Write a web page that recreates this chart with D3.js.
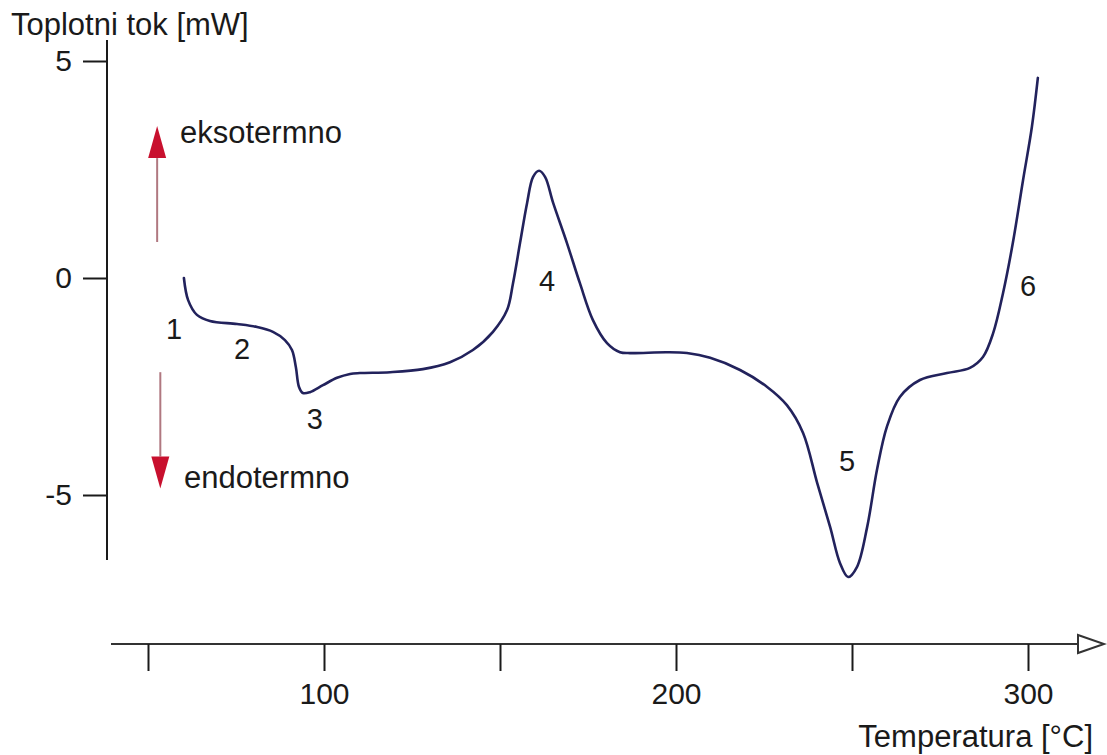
<!DOCTYPE html>
<html>
<head>
<meta charset="utf-8">
<script src="https://cdn.jsdelivr.net/npm/d3@7"></script>
<style>
  html, body { margin: 0; padding: 0; background: #fff; }
  svg { display: block; }
  text { font-family: "Liberation Sans", Arial, Helvetica, sans-serif; fill: #1a1a1a; }
</style>
</head>
<body>
<svg id="chart" width="1107" height="755"></svg>
<script>
// ---- data ----
const temperature = [60.2, 61.4, 63.9, 67.6, 75.3, 81.0, 85.5, 88.9, 90.9, 92.0, 92.9, 94.0, 96.0, 99.7, 103.7, 107.4, 110.2, 118.8, 128.1, 135.8, 142.3, 148.0, 152.0, 153.7, 155.7, 157.7, 159.4, 161.1, 162.8, 165.1, 169.0, 172.7, 176.4, 180.4, 184.1, 186.9, 197.4, 203.1, 209.7, 218.2, 225.9, 231.5, 236.1, 240.1, 243.8, 246.6, 248.9, 251.4, 254.3, 257.1, 259.9, 263.6, 269.3, 277.0, 283.5, 287.2, 290.1, 292.9, 295.7, 298.6, 301.1, 302.8];
const heatFlow = [0, -0.51, -0.85, -0.99, -1.06, -1.13, -1.24, -1.43, -1.66, -2.05, -2.51, -2.65, -2.63, -2.47, -2.30, -2.21, -2.19, -2.17, -2.10, -1.94, -1.66, -1.24, -0.74, -0.12, 0.81, 1.73, 2.33, 2.47, 2.33, 1.73, 0.81, -0.12, -0.97, -1.50, -1.71, -1.73, -1.71, -1.73, -1.84, -2.12, -2.51, -2.93, -3.57, -4.72, -5.74, -6.57, -6.89, -6.66, -5.74, -4.42, -3.43, -2.74, -2.35, -2.19, -2.07, -1.82, -1.27, -0.35, 0.81, 2.26, 3.48, 4.61];

const xTickValues = [50, 100, 150, 200, 250, 300];
const xTickLabels = ["", "100", "", "200", "", "300"];
const yTickValues = [-5, 0, 5];
const yTickLabels = ["-5", "0", "5"];

const stageLabels = ["1", "2", "3", "4", "5", "6"];
const stageT = [57.4, 76.7, 97.4, 163.4, 248.6, 300.0];
const stageV = [-1.18, -1.64, -3.25, -0.07, -4.22, -0.18];

const yTitle = "Toplotni tok [mW]";
const xTitle = "Temperatura [°C]";
const exoLabel = "eksotermno";
const endoLabel = "endotermno";
// direction arrows: [temperature, from value, to value]
const exoArrow = [52.6, 0.83, 3.5];
const endoArrow = [53.5, -2.17, -4.85];

// ---- layout ----
const svg = d3.select("#chart");
const x = d3.scaleLinear().domain([50, 300]).range([148, 1028]);
const y = d3.scaleLinear().domain([-5, 5]).range([495, 61]);
const axisY0 = 644;   // x-axis baseline
const axisX0 = 107;   // y-axis line
const fs = 31;

// y axis
svg.append("line")
  .attr("x1", axisX0).attr("x2", axisX0).attr("y1", 40).attr("y2", 560)
  .attr("stroke", "#1a1a1a").attr("stroke-width", 2);

const yAxis = svg.append("g")
  .attr("transform", `translate(${axisX0},0)`)
  .call(d3.axisLeft(y).tickValues(yTickValues).tickSize(24).tickPadding(11)
    .tickFormat((d, i) => yTickLabels[i]));
yAxis.select(".domain").remove();
yAxis.selectAll(".tick line").attr("stroke", "#1a1a1a").attr("stroke-width", 2);
yAxis.selectAll(".tick text").attr("font-size", 30).attr("fill", "#1a1a1a")
  .style("font-family", "'Liberation Sans', Arial, sans-serif");

// x axis
svg.append("line")
  .attr("x1", 111).attr("x2", 1079).attr("y1", axisY0).attr("y2", axisY0)
  .attr("stroke", "#333").attr("stroke-width", 2);
svg.append("path")
  .attr("d", `M1078,${axisY0 - 9} L1104,${axisY0} L1078,${axisY0 + 9} Z`)
  .attr("fill", "#fff").attr("stroke", "#333").attr("stroke-width", 2)
  .attr("stroke-linejoin", "miter");

const xAxis = svg.append("g")
  .attr("transform", `translate(0,${axisY0})`)
  .call(d3.axisBottom(x).tickValues(xTickValues).tickSize(27).tickPadding(12)
    .tickFormat((d, i) => xTickLabels[i]));
xAxis.select(".domain").remove();
xAxis.selectAll(".tick line").attr("stroke", "#1a1a1a").attr("stroke-width", 2);
xAxis.selectAll(".tick text").attr("font-size", 30).attr("fill", "#1a1a1a")
  .style("font-family", "'Liberation Sans', Arial, sans-serif");

// titles
svg.append("text").attr("x", 11).attr("y", 35).attr("font-size", fs).text(yTitle);
svg.append("text").attr("x", 1093).attr("y", 747).attr("text-anchor", "end")
  .attr("font-size", fs).text(xTitle);

// direction arrows
function drawArrow(a, up) {
  const cx = x(a[0]);
  const y1 = y(a[1]);
  const tip = y(a[2]);
  const headLen = 32;
  const base = up ? tip + headLen : tip - headLen;
  svg.append("line").attr("x1", cx).attr("x2", cx).attr("y1", y1).attr("y2", base)
    .attr("stroke", "#b07880").attr("stroke-width", 2);
  svg.append("path")
    .attr("d", `M${cx - 9},${base} L${cx},${tip} L${cx + 9},${base} Z`)
    .attr("fill", "#c8102e");
}
drawArrow(exoArrow, true);
drawArrow(endoArrow, false);
svg.append("text").attr("x", 180).attr("y", 143).attr("font-size", fs).text(exoLabel);
svg.append("text").attr("x", 184).attr("y", 488).attr("font-size", fs).text(endoLabel);

// DSC curve
const pts = temperature.map((t, i) => [t, heatFlow[i]]);
const line = d3.line().x(d => x(d[0])).y(d => y(d[1])).curve(d3.curveCatmullRom.alpha(0.5));
svg.append("path").datum(pts)
  .attr("d", line)
  .attr("fill", "none")
  .attr("stroke", "#22225c")
  .attr("stroke-width", 2.6)
  .attr("stroke-linejoin", "round")
  .attr("stroke-linecap", "round");

// stage numbers
svg.selectAll(".stage").data(stageLabels).enter().append("text")
  .attr("class", "stage")
  .attr("x", (d, i) => x(stageT[i]))
  .attr("y", (d, i) => y(stageV[i]))
  .attr("dy", "0.35em")
  .attr("text-anchor", "middle")
  .attr("font-size", 29)
  .text(d => d);
</script>
</body>
</html>
